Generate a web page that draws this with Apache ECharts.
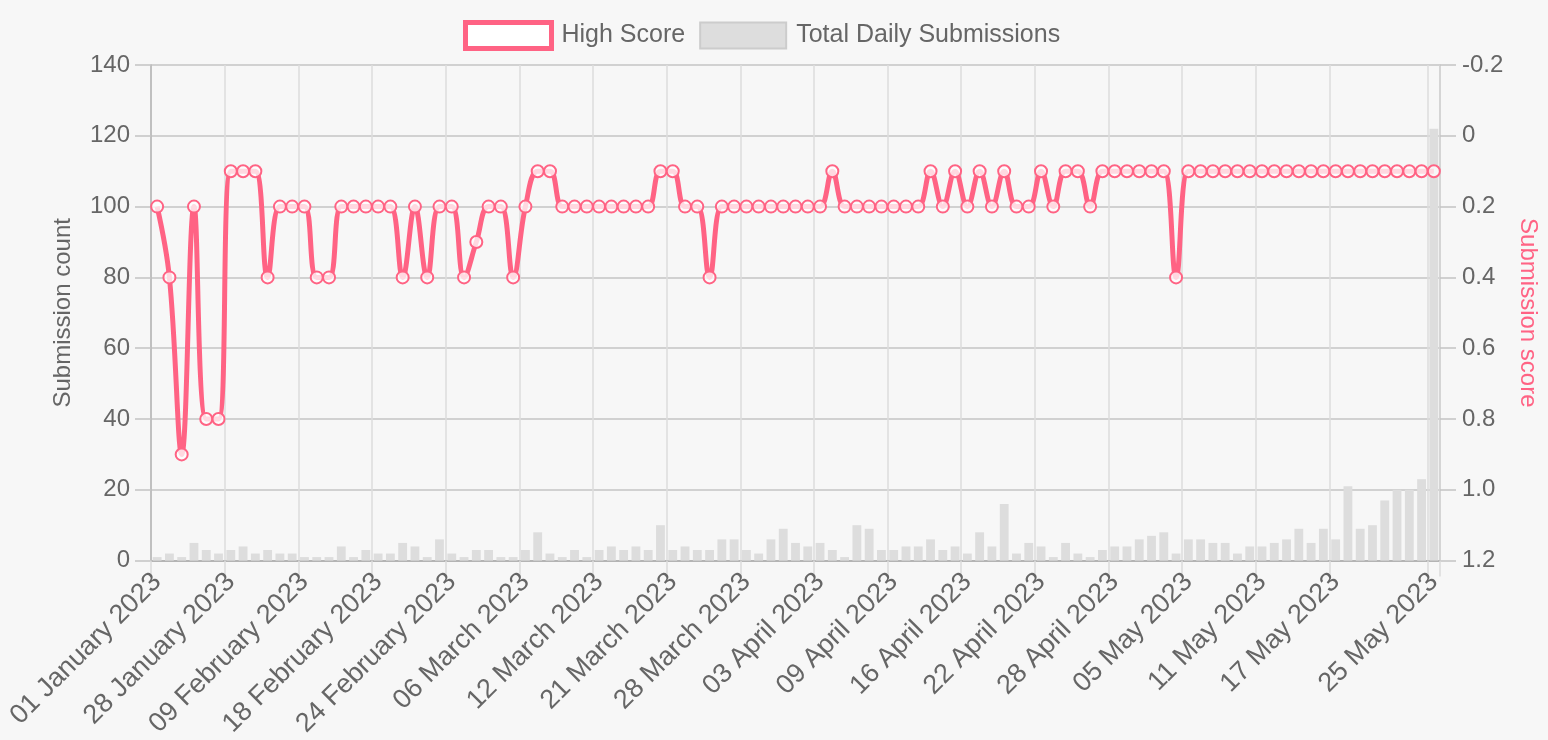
<!DOCTYPE html>
<html>
<head>
<meta charset="utf-8">
<title>High Score vs Daily Submissions</title>
<script src="https://cdn.jsdelivr.net/npm/echarts@6/dist/echarts.min.js"></script>
<style>
  html, body { margin: 0; padding: 0; background: #f7f7f7; }
  #chart { width: 1548px; height: 740px; }
</style>
</head>
<body>
<div id="chart"></div>
<script>
// x categories (only every 6th + the last are shown on the axis)
const dates = [
  '01 January 2023', '05 January 2023', '10 January 2023', '14 January 2023', '19 January 2023', '24 January 2023',
  '28 January 2023', '29 January 2023', '31 January 2023', '02 February 2023', '04 February 2023', '07 February 2023',
  '09 February 2023', '10 February 2023', '12 February 2023', '14 February 2023', '15 February 2023', '17 February 2023',
  '18 February 2023', '19 February 2023', '20 February 2023', '21 February 2023', '22 February 2023', '23 February 2023',
  '24 February 2023', '25 February 2023', '27 February 2023', '28 February 2023', '02 March 2023', '04 March 2023',
  '06 March 2023', '07 March 2023', '08 March 2023', '09 March 2023', '10 March 2023', '11 March 2023',
  '12 March 2023', '13 March 2023', '15 March 2023', '17 March 2023', '18 March 2023', '20 March 2023',
  '21 March 2023', '22 March 2023', '23 March 2023', '24 March 2023', '26 March 2023', '27 March 2023',
  '28 March 2023', '29 March 2023', '30 March 2023', '31 March 2023', '01 April 2023', '02 April 2023',
  '03 April 2023', '04 April 2023', '05 April 2023', '06 April 2023', '07 April 2023', '08 April 2023',
  '09 April 2023', '10 April 2023', '12 April 2023', '13 April 2023', '14 April 2023', '15 April 2023',
  '16 April 2023', '17 April 2023', '18 April 2023', '19 April 2023', '20 April 2023', '21 April 2023',
  '22 April 2023', '23 April 2023', '24 April 2023', '25 April 2023', '26 April 2023', '27 April 2023',
  '28 April 2023', '29 April 2023', '30 April 2023', '01 May 2023', '02 May 2023', '04 May 2023',
  '05 May 2023', '06 May 2023', '07 May 2023', '08 May 2023', '09 May 2023', '10 May 2023',
  '11 May 2023', '12 May 2023', '13 May 2023', '14 May 2023', '15 May 2023', '16 May 2023',
  '17 May 2023', '18 May 2023', '19 May 2023', '20 May 2023', '21 May 2023', '22 May 2023',
  '23 May 2023', '24 May 2023', '25 May 2023'
]

// best score of the day (right axis, lower is better)
const highScore = [
  0.2, 0.4, 0.9, 0.2, 0.8, 0.8, 0.1, 0.1, 0.1, 0.4, 0.2, 0.2, 0.2, 0.4, 0.4, 0.2, 0.2, 0.2, 0.2, 0.2, 0.4, 0.2,
  0.4, 0.2, 0.2, 0.4, 0.3, 0.2, 0.2, 0.4, 0.2, 0.1, 0.1, 0.2, 0.2, 0.2, 0.2, 0.2, 0.2, 0.2, 0.2, 0.1, 0.1,
  0.2, 0.2, 0.4, 0.2, 0.2, 0.2, 0.2, 0.2, 0.2, 0.2, 0.2, 0.2, 0.1, 0.2, 0.2, 0.2, 0.2, 0.2, 0.2, 0.2, 0.1,
  0.2, 0.1, 0.2, 0.1, 0.2, 0.1, 0.2, 0.2, 0.1, 0.2, 0.1, 0.1, 0.2, 0.1, 0.1, 0.1, 0.1, 0.1, 0.1, 0.4, 0.1,
  0.1, 0.1, 0.1, 0.1, 0.1, 0.1, 0.1, 0.1, 0.1, 0.1, 0.1, 0.1, 0.1, 0.1, 0.1, 0.1, 0.1, 0.1, 0.1, 0.1
]

// submissions per day (left axis)
const submissions = [
  1, 2, 1, 5, 3, 2, 3, 4, 2, 3, 2, 2, 1, 1, 1, 4, 1, 3, 2, 2, 5, 4,
  1, 6, 2, 1, 3, 3, 1, 1, 3, 8, 2, 1, 3, 1, 3, 4, 3, 4, 3, 10, 3,
  4, 3, 3, 6, 6, 3, 2, 6, 9, 5, 4, 5, 3, 1, 10, 9, 3, 3, 4, 4, 6,
  3, 4, 2, 8, 4, 16, 2, 5, 4, 1, 5, 2, 1, 3, 4, 4, 6, 7, 8, 2, 6,
  6, 5, 5, 2, 4, 4, 5, 6, 9, 5, 9, 6, 21, 9, 10, 17, 20, 20, 23, 122
]

const FONT = "'Liberation Sans', Helvetica, Arial, sans-serif"
const PINK = '#ff6384'
const TEXT = '#666'

// which categories get a label / grid line
const showTick = (i) => (i % 6 === 0 && i <= 96) || i === dates.length - 1

const chart = echarts.init(document.getElementById('chart'))

chart.setOption({
  backgroundColor: '#f7f7f7',
  animation: false,
  textStyle: { fontFamily: FONT },
  legend: {
    top: 15,
    left: 458,
    itemWidth: 86,
    itemHeight: 26,
    itemGap: 14,
    textStyle: { color: TEXT, fontSize: 25, fontFamily: FONT, padding: [0, 0, 0, 5] },
    data: [
      { name: 'High Score', icon: 'rect', itemStyle: { color: '#fff', borderColor: PINK, borderWidth: 5 } },
      { name: 'Total Daily Submissions', icon: 'rect', itemStyle: { color: '#dddddd', borderColor: '#cccccc', borderWidth: 2 } }
    ]
  },
  grid: { left: 151, right: 108, top: 65, bottom: 178 },
  xAxis: {
    type: 'category',
    data: dates,
    boundaryGap: true,
    axisLine: { lineStyle: { color: '#aaaaaa', width: 1.5 } },
    axisTick: { show: true, length: 16, interval: (i) => showTick(i), lineStyle: { color: '#dcdcdc', width: 1.5 } },
    axisLabel: {
      interval: (i) => showTick(i),
      rotate: 45,
      margin: 17,
      color: TEXT,
      fontSize: 27,
      fontFamily: FONT
    },
    splitLine: { show: true, interval: (i) => showTick(i), lineStyle: { color: '#dcdcdc', width: 1.5 } }
  },
  yAxis: [
    {
      type: 'value',
      min: 0,
      max: 140,
      interval: 20,
      name: 'Submission count',
      nameLocation: 'middle',
      nameGap: 76,
      nameTextStyle: { color: TEXT, fontSize: 24, fontFamily: FONT },
      axisLine: { show: true, lineStyle: { color: '#b4b4b4', width: 1.5 } },
      axisTick: { show: true, length: 16, lineStyle: { color: '#c4c4c4', width: 1.5 } },
      axisLabel: { color: TEXT, fontSize: 24, fontFamily: FONT, margin: 21 },
      splitLine: { lineStyle: { color: '#c4c4c4', width: 1.5 } }
    },
    {
      type: 'value',
      position: 'right',
      inverse: true,
      min: -0.2,
      max: 1.2,
      interval: 0.2,
      name: 'Submission score',
      nameLocation: 'middle',
      nameRotate: -90,
      nameGap: 76,
      nameTextStyle: { color: PINK, fontSize: 24, fontFamily: FONT },
      axisLine: { show: true, lineStyle: { color: '#d0d0d0', width: 1.5 } },
      axisTick: { show: true, length: 16, lineStyle: { color: '#c4c4c4', width: 1.5 } },
      axisLabel: {
        color: TEXT,
        fontSize: 24,
        fontFamily: FONT,
        margin: 22,
        formatter: (v) => (Math.abs(v) < 1e-9 ? '0' : v.toFixed(1))
      },
      splitLine: { show: false }
    }
  ],
  series: [
    {
      name: 'Total Daily Submissions',
      type: 'bar',
      yAxisIndex: 0,
      data: submissions,
      barWidth: '72%',
      itemStyle: { color: '#dddddd' },
      z: 1
    },
    {
      name: 'High Score',
      type: 'line',
      yAxisIndex: 1,
      data: highScore,
      smooth: 0.4,
      symbol: 'circle',
      symbolSize: 12,
      showAllSymbol: true,
      lineStyle: { color: PINK, width: 5 },
      itemStyle: { color: 'rgba(255,255,255,0.75)', borderColor: PINK, borderWidth: 2 },
      z: 3
    }
  ]
})
</script>
</body>
</html>
